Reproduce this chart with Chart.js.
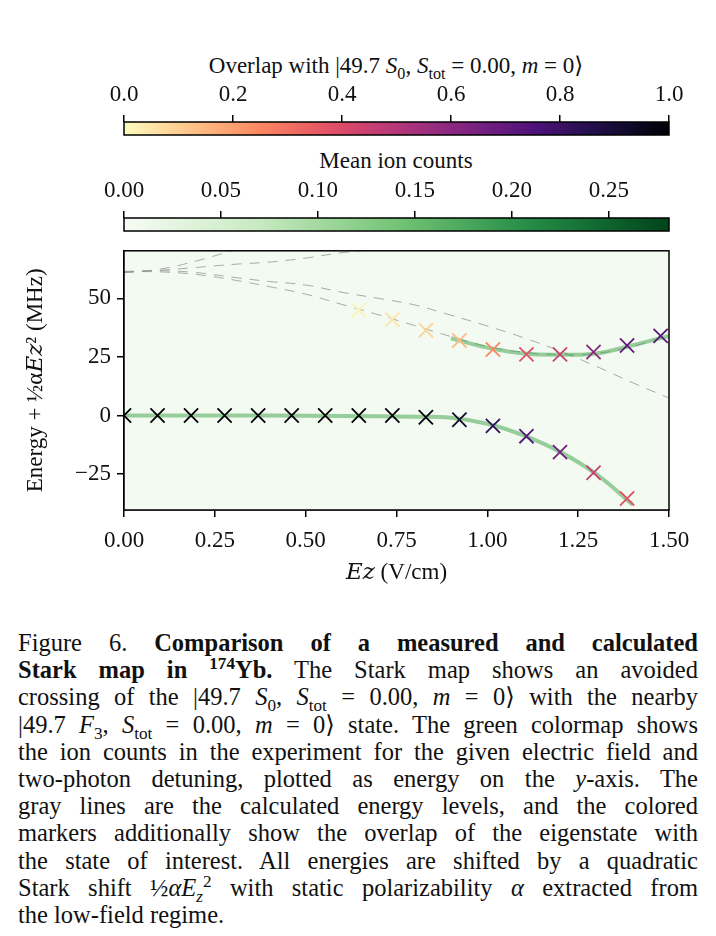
<!DOCTYPE html>
<html>
<head>
<meta charset="utf-8">
<script src="https://cdn.jsdelivr.net/npm/chart.js@4.4.0/dist/chart.umd.min.js"></script>
<style>
  body { margin: 0; background: #fff; width: 716px; height: 936px; overflow: hidden; position: relative;
         font-family: "Liberation Serif", "DejaVu Serif", serif; color: #111; }
  canvas { position: absolute; left: 0; }
  .cbt { position: absolute; left: 0; width: 792px; text-align: center; font-size: 23px; }
  #caption { position: absolute; left: 18px; top: 629px; width: 680px; font-size: 24.5px; line-height: 27.2px; }
  #caption div { text-align: justify; text-align-last: justify; white-space: nowrap; }
  sub, sup { font-size: 70%; line-height: 0; }
</style>
</head>
<body>
<div class="cbt" style="top:52px">Overlap with |49.7 <i>S</i><sub>0</sub>, <i>S</i><sub>tot</sub> = 0.00, <i>m</i> = 0⟩</div>
<canvas id="cb1" width="716" height="60" style="top:80px"></canvas>
<div class="cbt" style="top:148px">Mean ion counts</div>
<canvas id="cb2" width="716" height="60" style="top:176px"></canvas>
<canvas id="main" width="716" height="360" style="top:231px"></canvas>
<div id="caption">
<div>Figure 6.  <b>Comparison of a measured and calculated</b></div>
<div><b>Stark map in <sup>174</sup>Yb.</b> The Stark map shows an avoided</div>
<div>crossing of the |49.7 <i>S</i><sub>0</sub>, <i>S</i><sub>tot</sub> = 0.00, <i>m</i> = 0⟩ with the nearby</div>
<div>|49.7 <i>F</i><sub>3</sub>, <i>S</i><sub>tot</sub> = 0.00, <i>m</i> = 0⟩ state. The green colormap shows</div>
<div>the ion counts in the experiment for the given electric field and</div>
<div>two-photon detuning, plotted as energy on the <i>y</i>-axis. The</div>
<div>gray lines are the calculated energy levels, and the colored</div>
<div>markers additionally show the overlap of the eigenstate with</div>
<div>the state of interest. All energies are shifted by a quadratic</div>
<div>Stark shift ½<i>αE</i><sub><i>z</i></sub><sup>2</sup> with static polarizability <i>α</i> extracted from</div>
<div style="text-align-last:left">the low-field regime.</div>
</div>
<script>
// marker fields (V/cm)
const fieldX = [0, 0.0923, 0.1846, 0.2769, 0.3692, 0.4615, 0.5538, 0.6462, 0.7385, 0.8308, 0.9231, 1.0154, 1.1077, 1.2, 1.2923, 1.3846, 1.4769];
// lower branch (S state)
const lowerE = [0, 0, 0, 0, 0, 0, 0, 0, 0, -0.7, -1.8, -4.4, -8.8, -15.6, -24.4, -35.4];
const lowerOverlap = [1, 1, 1, 1, 1, 1, 1, 1, 0.99, 0.98, 0.93, 0.83, 0.73, 0.66, 0.45, 0.38];
// upper branch starts at marker index 7
const upperE = [45, 41, 36.4, 32, 28.2, 26.1, 26.1, 27.1, 29.9, 34];
const upperOverlap = [0.02, 0.05, 0.09, 0.14, 0.25, 0.38, 0.45, 0.6, 0.7, 0.72];
// calculated levels (gray dashed)
const calcX = [0, 0.1, 0.2, 0.3, 0.4, 0.5, 0.6, 0.7, 0.8, 0.9, 1.0, 1.1, 1.2, 1.3, 1.4, 1.5];
const calcA = [61.4, 61.3, 60.2, 57.9, 55, 51.8, 47.4, 43, 38.4, 33.7, 29.5, 27, 26, 26.5, 29.5, 34.3];
const calcB = [61.5, 61.8, 61, 59, 57.2, 55.7, 52.6, 50, 47.2, 42.8, 38.2, 33.2, 27.5, 21, 14, 7.5];
const calcCx = [0, 0.1, 0.2, 0.3, 0.4, 0.5, 0.6, 0.7];
const calcC = [61, 62, 63.2, 64.5, 65.5, 67.2, 69.5, 71];
const calcDx = [0, 0.1, 0.2, 0.3];
const calcD = [61, 62.5, 66, 70.5];
// measured ion count ridges (green)
const ridgeLowX = [0, 0.2, 0.4, 0.6, 0.8, 0.9, 1.0, 1.1, 1.2, 1.3, 1.4];
const ridgeLow = [0, 0, 0, -0.2, -0.5, -0.9, -3.5, -8.5, -15.5, -25, -38];
const ridgeUpX = [0.9, 1.0, 1.1, 1.2, 1.3, 1.4, 1.5];
const ridgeUp = [33, 29, 26.5, 26, 26.5, 30, 34];
const overlapTicks = [0, 0.2, 0.4, 0.6, 0.8, 1.0];
const countTicks = [0, 0.05, 0.1, 0.15, 0.2, 0.25];
const countMax = 0.281;

const magma = ['#000004', '#1c1044', '#4f127b', '#812581', '#b5367a', '#e55064', '#fb8761', '#fec287', '#fcfdbf'];
const greens = ['#f7fcf5', '#c7e9c0', '#74c476', '#238b45', '#00441b'];
function hex(c) { return [1, 3, 5].map(i => parseInt(c.substr(i, 2), 16)); }
function cmap(stops, t) {
  t = Math.max(0, Math.min(1, t));
  const p = t * (stops.length - 1), i = Math.min(Math.floor(p), stops.length - 2), f = p - i;
  const a = hex(stops[i]), b = hex(stops[i + 1]);
  return 'rgb(' + a.map((v, k) => Math.round(v + (b[k] - v) * f)).join(',') + ')';
}
const magmaR = v => cmap(magma, 1 - v);

const FONT = { family: '"Liberation Serif", "DejaVu Serif", serif', size: 23 };
Chart.defaults.color = '#111';
Chart.defaults.animation = false;

function colorbar(id, max, ticks, colorAt, digits) {
  new Chart(document.getElementById(id), {
    type: 'scatter',
    data: { datasets: [] },
    options: {
      responsive: false,
      layout: { padding: { left: 124, right: 47, top: 0, bottom: 5 } },
      plugins: { legend: { display: false }, tooltip: { enabled: false } },
      scales: {
        x: {
          type: 'linear', position: 'top', min: 0, max: max,
          afterBuildTicks: s => { s.ticks = ticks.map(v => ({ value: v })); },
          afterFit: s => { s.height = 42; },
          ticks: { font: FONT, padding: 6, maxRotation: 0, callback: v => v.toFixed(digits) },
          grid: { display: true, drawOnChartArea: false, tickLength: 7, color: '#000', lineWidth: 1.5 },
          border: { display: false }
        },
        y: { display: false, min: 0, max: 1 }
      }
    },
    plugins: [{
      id: 'bar',
      beforeDatasetsDraw(chart) {
        const a = chart.chartArea, ctx = chart.ctx;
        const g = ctx.createLinearGradient(a.left, 0, a.right, 0);
        for (let i = 0; i <= 20; i++) g.addColorStop(i / 20, colorAt(i / 20));
        ctx.fillStyle = g;
        ctx.fillRect(a.left, a.top, a.right - a.left, a.bottom - a.top);
        ctx.strokeStyle = '#000'; ctx.lineWidth = 1.5;
        ctx.strokeRect(a.left, a.top, a.right - a.left, a.bottom - a.top);
      }
    }]
  });
}
colorbar('cb1', 1, overlapTicks, t => magmaR(t), 1);
colorbar('cb2', countMax, countTicks, t => cmap(greens, t), 2);

const pts = (xs, ys) => ys.map((y, i) => ({ x: xs[i], y: y }));
const dashed = (xs, ys) => ({ type: 'line', data: pts(xs, ys), borderColor: 'rgba(150,150,150,0.8)', borderWidth: 1,
  borderDash: [10, 8], pointRadius: 0, tension: 0.4, fill: false, order: 3 });
const ridge = (xs, ys) => ({ type: 'line', data: pts(xs, ys), borderColor: 'rgba(60,160,70,0.5)', borderWidth: 4,
  pointRadius: 0, tension: 0.4, fill: false, order: 2 });
const marks = (xs, ys, ov) => ({ type: 'scatter', data: pts(xs, ys), pointStyle: 'crossRot', pointRadius: 10,
  borderWidth: 1.8, pointBorderColor: ov.map(magmaR), backgroundColor: 'transparent', order: 1 });

new Chart(document.getElementById('main'), {
  type: 'scatter',
  data: {
    datasets: [
      dashed(calcX, calcA), dashed(calcX, calcB), dashed(calcCx, calcC), dashed(calcDx, calcD),
      ridge(ridgeLowX, ridgeLow), ridge(ridgeUpX, ridgeUp),
      marks(fieldX.slice(0, lowerE.length), lowerE, lowerOverlap),
      marks(fieldX.slice(7), upperE, upperOverlap)
    ]
  },
  options: {
    responsive: false,
    clip: 0,
    layout: { padding: { left: 0, right: 47, top: 0, bottom: 0 } },
    plugins: { legend: { display: false }, tooltip: { enabled: false } },
    scales: {
      x: {
        type: 'linear', min: 0, max: 1.5,
        afterBuildTicks: s => { s.ticks = [0, 0.25, 0.5, 0.75, 1, 1.25, 1.5].map(v => ({ value: v })); },
        afterFit: s => { s.height = 81; },
        ticks: { font: FONT, padding: 10, maxRotation: 0, callback: v => v.toFixed(2) },
        grid: { drawOnChartArea: false, tickLength: 7, color: '#000', lineWidth: 1.5 },
        border: { color: '#000', width: 1.5 },
        title: { display: true, text: '𝐸𝑧 (V/cm)', font: FONT, padding: { top: 0 } }
      },
      y: {
        type: 'linear', min: -40.3, max: 70.3,
        afterBuildTicks: s => { s.ticks = [-25, 0, 25, 50].map(v => ({ value: v })); },
        afterFit: s => { s.width = 124; },
        ticks: { font: FONT, padding: 6, callback: v => v < 0 ? '−' + (-v) : '' + v },
        grid: { drawOnChartArea: false, tickLength: 7, color: '#000', lineWidth: 1.5 },
        border: { color: '#000', width: 1.5 },
        title: { display: true, text: 'Energy + ½α𝐸𝑧² (MHz)', font: FONT, padding: { top: 22, bottom: 0 } }
      }
    }
  },
  plugins: [{
    id: 'frame',
    beforeDatasetsDraw(chart) {
      const a = chart.chartArea, ctx = chart.ctx;
      ctx.save();
      ctx.fillStyle = '#f3faf1';
      ctx.fillRect(a.left, a.top, a.right - a.left, a.bottom - a.top);
      ctx.restore();
    },
    afterDraw(chart) {
      const a = chart.chartArea, ctx = chart.ctx;
      ctx.save();
      ctx.strokeStyle = '#000'; ctx.lineWidth = 1.5;
      ctx.strokeRect(a.left, a.top, a.right - a.left, a.bottom - a.top);
      ctx.restore();
    }
  }]
});
</script>
</body>
</html>
